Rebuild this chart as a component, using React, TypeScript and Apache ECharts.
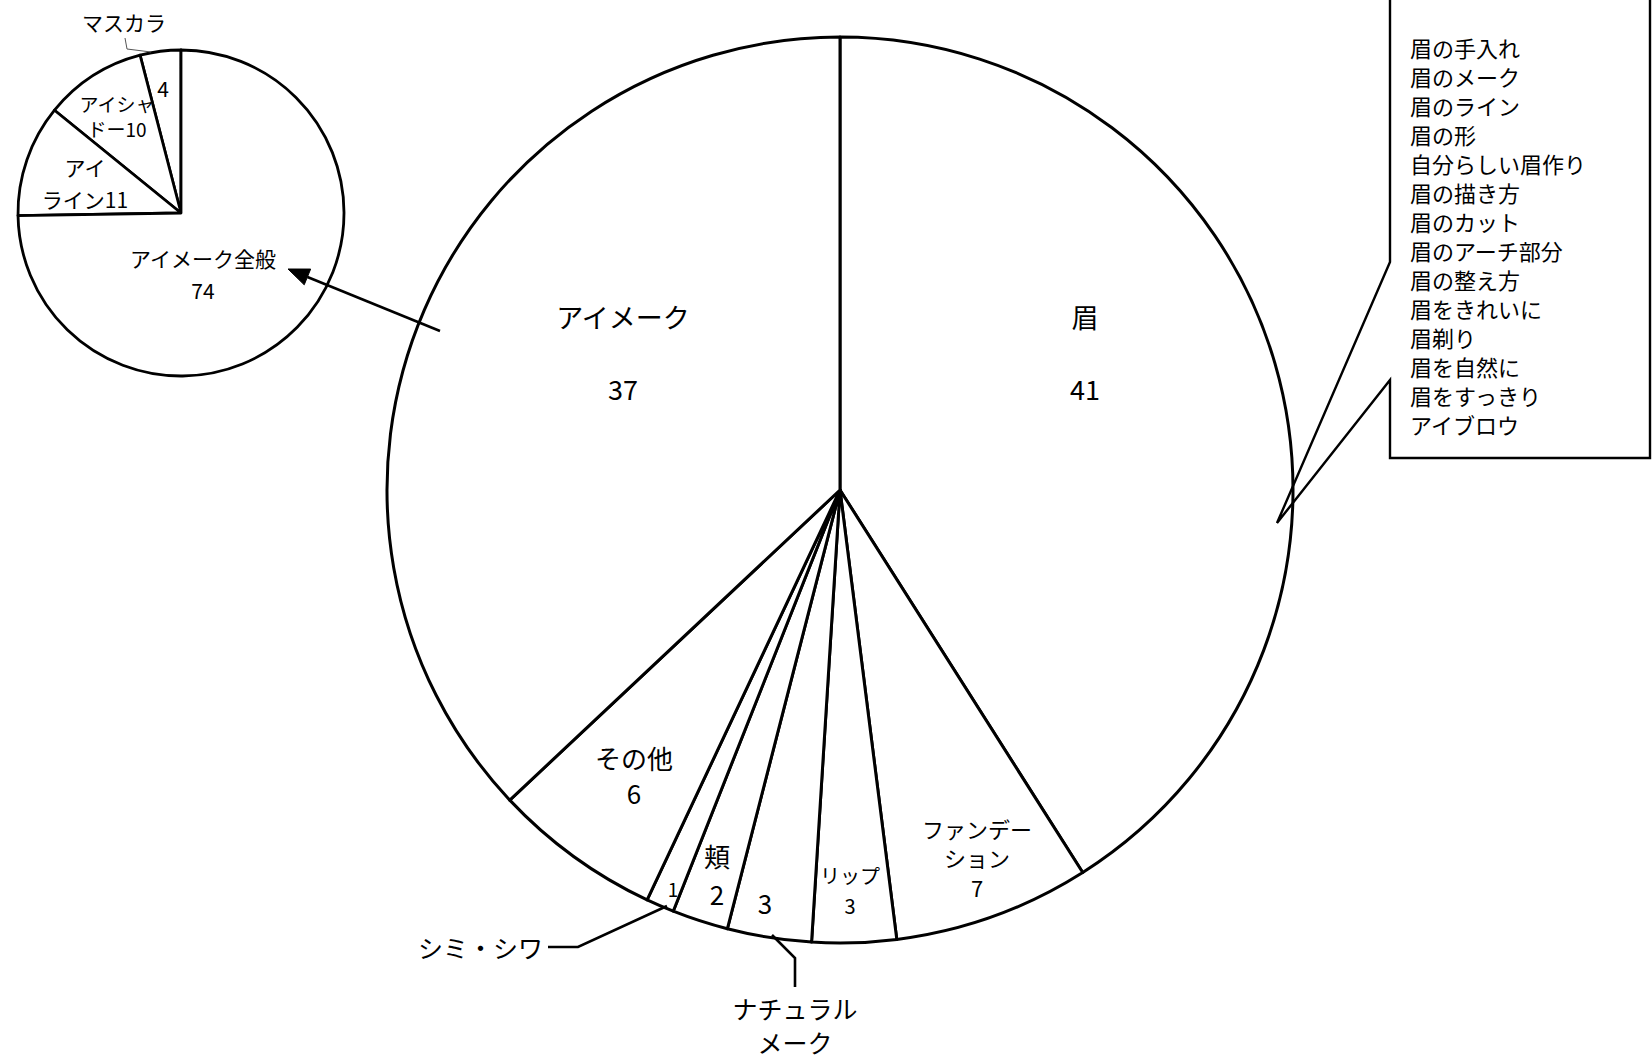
import React, { useEffect, useRef } from 'react';
import * as echarts from 'echarts';

const FONT = '"Noto Sans CJK JP", "Noto Sans", sans-serif';

// ---- data ----
const mainNames = ['眉', 'ファンデーション', 'リップ', 'ナチュラルメーク', '頬', 'シミ・シワ', 'その他', 'アイメーク'];
const mainValues = [41, 7, 3, 3, 2, 1, 6, 37];
const mainInsideText = ['眉\n\n41', 'ファンデー\nション\n7', 'リップ\n3', '3', '頬\n2', '1', 'その他\n6', 'アイメーク\n\n37'];
const mainOutsideText: (string | null)[] = [null, null, null, 'ナチュラル\nメーク', null, 'シミ・シワ', null, null];

const subNames = ['マスカラ', 'アイシャドー', 'アイライン', 'アイメーク全般'];
const subValues = [4, 10, 11, 74];
const subInsideText = ['4', 'アイシャ\nドー10', 'アイ\nライン11', 'アイメーク全般\n74'];
const subOutsideText: (string | null)[] = ['マスカラ', null, null, null];

const browItems = [
  '眉の手入れ', '眉のメーク', '眉のライン', '眉の形', '自分らしい眉作り', '眉の描き方', '眉のカット',
  '眉のアーチ部分', '眉の整え方', '眉をきれいに', '眉剃り', '眉を自然に', '眉をすっきり', 'アイブロウ',
];

// ---- layout ----
const MAIN_CENTER = [840, 490];
const MAIN_R = 453;
const SUB_CENTER = [181, 213];
const SUB_R = 163;

const mainInsidePos = [[1085, 352], [977, 857], [850, 890], [765, 902], [717, 874], [673, 888], [634, 775], [623, 352]];
const mainInsideFont = [[27, 36], [22, 29.5], [20, 30], [26, 30], [26, 38], [19, 22], [26, 35], [27, 36]];
const mainOutsidePos: Record<number, { x: number; y: number; align: string; font: number; lh: number; line: number[][] }> = {
  3: { x: 795, y: 1025, align: 'center', font: 25, lh: 34, line: [[772, 935], [795, 958], [795, 987]] },
  5: { x: 543, y: 947, align: 'right', font: 25, lh: 30, line: [[667, 906], [578, 947], [548, 947]] },
};

const subInsidePos = [[163, 88], [117, 115.5], [85, 183], [203, 274]];
const subInsideFont = [[21, 25], [19, 25], [21, 32], [21, 32]];
const subOutsidePos: Record<number, { x: number; y: number; align: string; font: number; lh: number; line: number[][] }> = {
  0: { x: 124, y: 22, align: 'center', font: 21, lh: 26, line: [[151, 52], [127, 49], [125, 38]] },
};

export default function App() {
  const ref = useRef<HTMLDivElement>(null);

  useEffect(() => {
    if (!ref.current) return;
    const chart = echarts.init(ref.current, null, { renderer: 'svg' });

    const mainData = mainNames.map((n, i) => ({
      name: n,
      value: mainValues[i],
      label: { formatter: mainInsideText[i], fontSize: mainInsideFont[i][0], lineHeight: mainInsideFont[i][1] },
    }));
    const mainOverlay = mainNames.map((n, i) => {
      const o = mainOutsidePos[i];
      return {
        name: n,
        value: mainValues[i],
        label: o
          ? { show: true, formatter: mainOutsideText[i] as string, fontSize: o.font, lineHeight: o.lh }
          : { show: false },
        labelLine: { show: !!o },
      };
    });
    const subData = subNames.map((n, i) => ({
      name: n,
      value: subValues[i],
      label: { formatter: subInsideText[i], fontSize: subInsideFont[i][0], lineHeight: subInsideFont[i][1] },
    }));
    const subOverlay = subNames.map((n, i) => {
      const o = subOutsidePos[i];
      return {
        name: n,
        value: subValues[i],
        label: o
          ? { show: true, formatter: subOutsideText[i] as string, fontSize: o.font, lineHeight: o.lh }
          : { show: false },
        labelLine: { show: !!o },
      };
    });

    const insideLayout = (pos: number[][]) => (p: any) => ({
      x: pos[p.dataIndex][0],
      y: pos[p.dataIndex][1],
      align: 'center',
      verticalAlign: 'middle',
    });
    const outsideLayout = (map: Record<number, any>) => (p: any) => {
      const o = map[p.dataIndex];
      if (!o) return {};
      return { x: o.x, y: o.y, align: o.align, verticalAlign: 'middle', labelLinePoints: o.line };
    };

    // arrow geometry
    const aFrom = [440, 331];
    const aTip = [288, 269];
    const dx = aTip[0] - aFrom[0];
    const dy = aTip[1] - aFrom[1];
    const len = Math.sqrt(dx * dx + dy * dy);
    const ux = dx / len;
    const uy = dy / len;
    const headLen = 21;
    const headHalf = 8.5;
    const bx = aTip[0] - ux * headLen;
    const by = aTip[1] - uy * headLen;

    const option: any = {
      animation: false,
      backgroundColor: '#ffffff',
      textStyle: { fontFamily: FONT },
      series: [
        {
          type: 'pie',
          silent: true,
          center: MAIN_CENTER,
          radius: MAIN_R,
          startAngle: 90,
          clockwise: true,
          avoidLabelOverlap: false,
          itemStyle: { color: '#ffffff', borderColor: '#000000', borderWidth: 3 },
          label: {
            show: true,
            position: 'inside',
            color: '#000000',
            fontFamily: FONT,
            overflow: 'none',
          },
          labelLine: { show: false },
          labelLayout: insideLayout(mainInsidePos),
          data: mainData,
          z: 2,
        },
        {
          type: 'pie',
          silent: true,
          center: MAIN_CENTER,
          radius: MAIN_R,
          startAngle: 90,
          clockwise: true,
          avoidLabelOverlap: false,
          itemStyle: { color: 'rgba(0,0,0,0)', borderWidth: 0 },
          label: { position: 'outside', color: '#000000', fontFamily: FONT, overflow: 'none' },
          labelLine: { lineStyle: { color: '#000000', width: 2.6 } },
          labelLayout: outsideLayout(mainOutsidePos),
          data: mainOverlay,
          z: 3,
        },
        {
          type: 'pie',
          silent: true,
          center: SUB_CENTER,
          radius: SUB_R,
          startAngle: 90,
          clockwise: false,
          avoidLabelOverlap: false,
          itemStyle: { color: '#ffffff', borderColor: '#000000', borderWidth: 2.8 },
          label: { show: true, position: 'inside', color: '#000000', fontFamily: FONT, overflow: 'none' },
          labelLine: { show: false },
          labelLayout: insideLayout(subInsidePos),
          data: subData,
          z: 2,
        },
        {
          type: 'pie',
          silent: true,
          center: SUB_CENTER,
          radius: SUB_R,
          startAngle: 90,
          clockwise: false,
          avoidLabelOverlap: false,
          itemStyle: { color: 'rgba(0,0,0,0)', borderWidth: 0 },
          label: { position: 'outside', color: '#000000', fontFamily: FONT, overflow: 'none' },
          labelLine: { lineStyle: { color: '#555555', width: 1 } },
          labelLayout: outsideLayout(subOutsidePos),
          data: subOverlay,
          z: 3,
        },
      ],
      graphic: [
        {
          type: 'line',
          silent: true,
          z: 10,
          shape: { x1: aFrom[0], y1: aFrom[1], x2: bx, y2: by },
          style: { stroke: '#000000', lineWidth: 2.6 },
        },
        {
          type: 'polygon',
          silent: true,
          z: 10,
          shape: {
            points: [
              [aTip[0], aTip[1]],
              [bx - uy * headHalf, by + ux * headHalf],
              [bx + uy * headHalf, by - ux * headHalf],
            ],
          },
          style: { fill: '#000000', stroke: '#000000', lineWidth: 1 },
        },
        {
          type: 'polygon',
          silent: true,
          z: 10,
          shape: {
            points: [
              [1390, -4], [1650, -4], [1650, 458], [1390, 458], [1390, 380], [1277, 523], [1390, 262],
            ],
          },
          style: { fill: 'none', stroke: '#000000', lineWidth: 2.4 },
        },
        {
          type: 'text',
          silent: true,
          z: 11,
          x: 1410,
          y: 32.5,
          style: {
            text: browItems.join('\n'),
            fontSize: 22,
            lineHeight: 29,
            fontFamily: FONT,
            fill: '#000000',
            textAlign: 'left',
            textVerticalAlign: 'top',
          },
        },
      ],
    };

    chart.setOption(option);
    return () => chart.dispose();
  }, []);

  return (
    <div
      ref={ref}
      style={{ position: 'absolute', left: 0, top: 0, width: 1652, height: 1063, background: '#ffffff' }}
    />
  );
}
